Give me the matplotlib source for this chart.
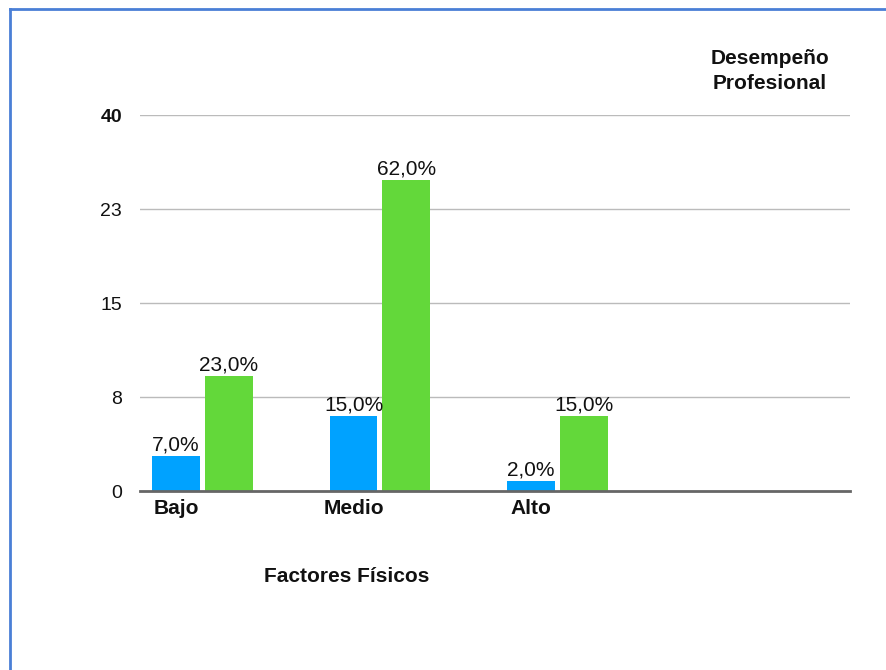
import matplotlib
matplotlib.use("Agg")
import matplotlib.pyplot as plt
from matplotlib.lines import Line2D

plt.rcParams['font.family'] = ['Liberation Sans', 'DejaVu Sans']

# Data
categories = ["Bajo", "Medio", "Alto"]
pct_blue = [7.0, 15.0, 2.0]
pct_green = [23.0, 62.0, 15.0]
sample_size = 40
ytick_values = [0, 7.5, 15, 22.5, 30]
ytick_labels = ["0", "8", "15", "23", "40"]

blue = "#00A2FF"
green = "#63D83A"

fig = plt.figure(figsize=(8.86, 6.70), dpi=100)
ax = fig.add_axes([140 / 886, 179 / 670, 710 / 886, 376 / 670])

bar_w = 0.27
off_blue = 0.203
off_green = 0.501

h_blue = [p * sample_size / 100 for p in pct_blue]
h_green = [p * sample_size / 100 for p in pct_green]

xb = [i + off_blue for i in range(len(categories))]
xg = [i + off_green for i in range(len(categories))]

bars_b = ax.bar(xb, h_blue, width=bar_w, color=blue, zorder=3)
bars_g = ax.bar(xg, h_green, width=bar_w, color=green, zorder=3)

for rects, pcts in ((bars_b, pct_blue), (bars_g, pct_green)):
    for r, p in zip(rects, pcts):
        ax.annotate(f"{p:.1f}".replace(".", ",") + "%",
                    (r.get_x() + r.get_width() / 2, r.get_height()),
                    xytext=(0, 1), textcoords="offset points",
                    ha="center", va="bottom", fontsize=15, color="#111111")

ax.set_xlim(0, 4)
ax.set_ylim(0, 30)

ax.set_yticks(ytick_values)
ax.set_yticklabels(ytick_labels, fontsize=14, color="#111111")
ax.get_yticklabels()[-1].set_fontweight("bold")
ax.tick_params(axis="y", length=0, pad=13)

ax.set_xticks(xb)
ax.set_xticklabels(categories, fontsize=15, fontweight="bold", color="#111111")
ax.tick_params(axis="x", length=0, pad=6)

ax.grid(axis="y", color="#BBBBBB", linewidth=1, zorder=0)
ax.set_axisbelow(True)
for s in ("top", "right", "left"):
    ax.spines[s].set_visible(False)
ax.spines["bottom"].set_color("#666666")
ax.spines["bottom"].set_linewidth(2)
ax.spines["bottom"].set_zorder(4)

fig.text(347 / 886, 1 - 576 / 670, "Factores Físicos", ha="center", va="center",
         fontsize=15, fontweight="bold", color="#111111")
fig.text(770 / 886, 1 - 71 / 670, "Desempeño\nProfesional", ha="center", va="center",
         fontsize=15, fontweight="bold", color="#111111", linespacing=1.4)

# Frame lines along the left and top edges
frame_color = "#4A7FD6"
fig.add_artist(Line2D([9.5 / 886, 9.5 / 886], [0, 1 - 8.5 / 670],
                      transform=fig.transFigure, color=frame_color, linewidth=2))
fig.add_artist(Line2D([9.5 / 886, 1], [1 - 8.5 / 670, 1 - 8.5 / 670],
                      transform=fig.transFigure, color=frame_color, linewidth=2))

fig.savefig("out.png", dpi=100, facecolor="white")
